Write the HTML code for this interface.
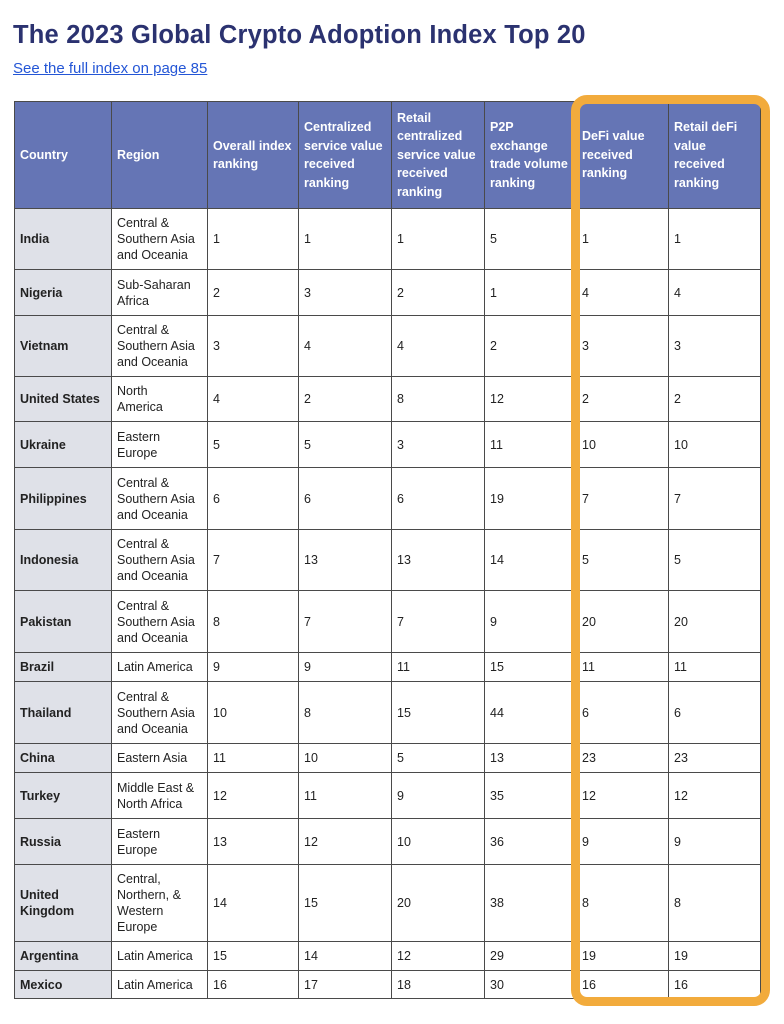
<!DOCTYPE html>
<html><head><meta charset="utf-8"><style>
body{margin:0;background:#fff;font-family:"Liberation Sans",sans-serif;width:784px;height:1024px;position:relative;overflow:hidden}
h1{position:absolute;left:13px;top:21px;margin:0;font-size:25.5px;font-weight:bold;color:#2b3270;letter-spacing:0.2px}
a{position:absolute;left:13px;top:60px;font-size:15px;color:#2456d6;text-decoration:underline}
table{position:absolute;left:14px;top:101px;border-collapse:collapse;table-layout:fixed;width:746px}
td,th{border:1.5px solid #4a4a4a;font-size:12.5px;line-height:16px;padding:0 5px;text-align:left;vertical-align:middle;color:#222;overflow:hidden}
th{background:#6575b5;color:#fff;font-weight:bold;line-height:18.5px}
td:first-child{background:#dfe1e8;font-weight:bold}
.box{position:absolute;left:571px;top:95px;width:181px;height:893px;border:9px solid #f2ab3c;border-radius:16px}
</style></head><body>
<h1>The 2023 Global Crypto Adoption Index Top 20</h1>
<a>See the full index on page 85</a>
<table>
<colgroup><col style="width:97px"><col style="width:96px"><col style="width:91px"><col style="width:93px"><col style="width:93px"><col style="width:92px"><col style="width:92px"><col style="width:92px"></colgroup>
<tr style="height:107px"><th>Country</th><th>Region</th><th>Overall index ranking</th><th>Centralized service value received ranking</th><th>Retail centralized service value received ranking</th><th>P2P exchange trade volume ranking</th><th>DeFi value received ranking</th><th>Retail deFi value received ranking</th></tr>
<tr style="height:61px"><td>India</td><td>Central &amp;<br>Southern Asia and Oceania</td><td>1</td><td>1</td><td>1</td><td>5</td><td>1</td><td>1</td></tr>
<tr style="height:46px"><td>Nigeria</td><td>Sub-Saharan Africa</td><td>2</td><td>3</td><td>2</td><td>1</td><td>4</td><td>4</td></tr>
<tr style="height:61px"><td>Vietnam</td><td>Central &amp;<br>Southern Asia and Oceania</td><td>3</td><td>4</td><td>4</td><td>2</td><td>3</td><td>3</td></tr>
<tr style="height:45px"><td>United States</td><td>North<br>America</td><td>4</td><td>2</td><td>8</td><td>12</td><td>2</td><td>2</td></tr>
<tr style="height:46px"><td>Ukraine</td><td>Eastern Europe</td><td>5</td><td>5</td><td>3</td><td>11</td><td>10</td><td>10</td></tr>
<tr style="height:62px"><td>Philippines</td><td>Central &amp;<br>Southern Asia and Oceania</td><td>6</td><td>6</td><td>6</td><td>19</td><td>7</td><td>7</td></tr>
<tr style="height:61px"><td>Indonesia</td><td>Central &amp;<br>Southern Asia and Oceania</td><td>7</td><td>13</td><td>13</td><td>14</td><td>5</td><td>5</td></tr>
<tr style="height:62px"><td>Pakistan</td><td>Central &amp;<br>Southern Asia and Oceania</td><td>8</td><td>7</td><td>7</td><td>9</td><td>20</td><td>20</td></tr>
<tr style="height:29px"><td>Brazil</td><td>Latin America</td><td>9</td><td>9</td><td>11</td><td>15</td><td>11</td><td>11</td></tr>
<tr style="height:62px"><td>Thailand</td><td>Central &amp;<br>Southern Asia and Oceania</td><td>10</td><td>8</td><td>15</td><td>44</td><td>6</td><td>6</td></tr>
<tr style="height:29px"><td>China</td><td>Eastern Asia</td><td>11</td><td>10</td><td>5</td><td>13</td><td>23</td><td>23</td></tr>
<tr style="height:46px"><td>Turkey</td><td>Middle East &amp; North Africa</td><td>12</td><td>11</td><td>9</td><td>35</td><td>12</td><td>12</td></tr>
<tr style="height:46px"><td>Russia</td><td>Eastern Europe</td><td>13</td><td>12</td><td>10</td><td>36</td><td>9</td><td>9</td></tr>
<tr style="height:77px"><td>United Kingdom</td><td>Central, Northern, &amp; Western Europe</td><td>14</td><td>15</td><td>20</td><td>38</td><td>8</td><td>8</td></tr>
<tr style="height:29px"><td>Argentina</td><td>Latin America</td><td>15</td><td>14</td><td>12</td><td>29</td><td>19</td><td>19</td></tr>
<tr style="height:28px"><td>Mexico</td><td>Latin America</td><td>16</td><td>17</td><td>18</td><td>30</td><td>16</td><td>16</td></tr>
</table>
<div class="box"></div>
</body></html>
